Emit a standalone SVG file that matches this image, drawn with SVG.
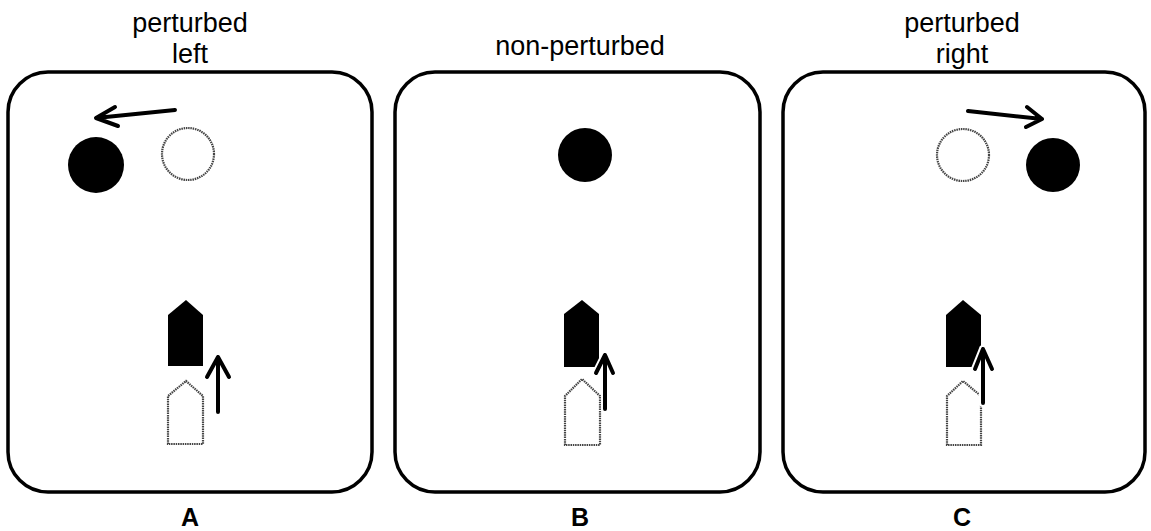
<svg xmlns="http://www.w3.org/2000/svg" width="1151" height="531" viewBox="0 0 1151 531">
<defs>
<style>
.panel{fill:#fff;stroke:#000;stroke-width:3.5}
.lbl{font-family:"Liberation Sans",Arial,sans-serif;font-size:27px;fill:#000;text-anchor:middle}
.cap{font-family:"Liberation Sans",Arial,sans-serif;font-size:25px;font-weight:bold;fill:#000;text-anchor:middle}
.ball{fill:#000}
.ghost{fill:#fff;stroke:#444;stroke-width:2.2;stroke-dasharray:1.5 0.8}
.boat{fill:#000}
.arr{fill:none;stroke:#000;stroke-width:4;stroke-linecap:round;stroke-linejoin:round}
.halo{fill:none;stroke:#fff;stroke-width:8;stroke-linecap:round;stroke-linejoin:round}
</style>
</defs>
<rect width="1151" height="531" fill="#fff"/>
<g id="panelA">
<rect class="panel" x="8" y="72" width="364" height="420" rx="40" ry="40"/>
<text class="lbl" x="190" y="32">perturbed</text>
<text class="lbl" x="190" y="63">left</text>
<circle class="ghost" cx="188" cy="154" r="26"/>
<circle class="ball" cx="96" cy="165" r="28"/>
<polygon class="ghost" points="168,444 168,396 186,381 203,396 203,444"/>
<polygon class="boat" points="168,366 168,315 186,300 203,315 203,366"/>
<text class="cap" x="190" y="526">A</text>
</g>
<g id="panelB">
<rect class="panel" x="395" y="72" width="365" height="420" rx="40" ry="40"/>
<text class="lbl" x="580" y="55">non-perturbed</text>
<circle class="ball" cx="585" cy="155" r="27"/>
<polygon class="ghost" points="565,445 565,396 582,379 600,396 600,445"/>
<polygon class="boat" points="564,367 564,314 582,300 599,314 599,367"/>
<text class="cap" x="580" y="526">B</text>
</g>
<g id="panelC">
<rect class="panel" x="783" y="72" width="362" height="420" rx="40" ry="40"/>
<text class="lbl" x="962" y="32">perturbed</text>
<text class="lbl" x="962" y="63">right</text>
<circle class="ghost" cx="963" cy="155" r="26"/>
<circle class="ball" cx="1053" cy="165" r="27"/>
<polygon class="ghost" points="947,445 947,396 963,381 981,396 981,445"/>
<polygon class="boat" points="946,367 946,315 963,300 981,315 981,367"/>
<text class="cap" x="962" y="526">C</text>
</g>
<g id="connectors">
<path class="arr" d="M175,110 L96,118 M115,107 L96,118 L118,126"/>
<path class="arr" d="M218,412 L218,357 M207,377 L218,357 L229,377"/>
<path class="halo" d="M605,409 L605,355 M596,373 L605,355 L613,373"/>
<path class="arr" d="M605,409 L605,355 M596,373 L605,355 L613,373"/>
<path class="arr" d="M968,111 L1042,119 M1027,107 L1042,119 L1026,127"/>
<path class="halo" d="M983,403 L983,349 M975,369 L983,349 L992,369"/>
<path class="arr" d="M983,403 L983,349 M975,369 L983,349 L992,369"/>
</g>
</svg>
